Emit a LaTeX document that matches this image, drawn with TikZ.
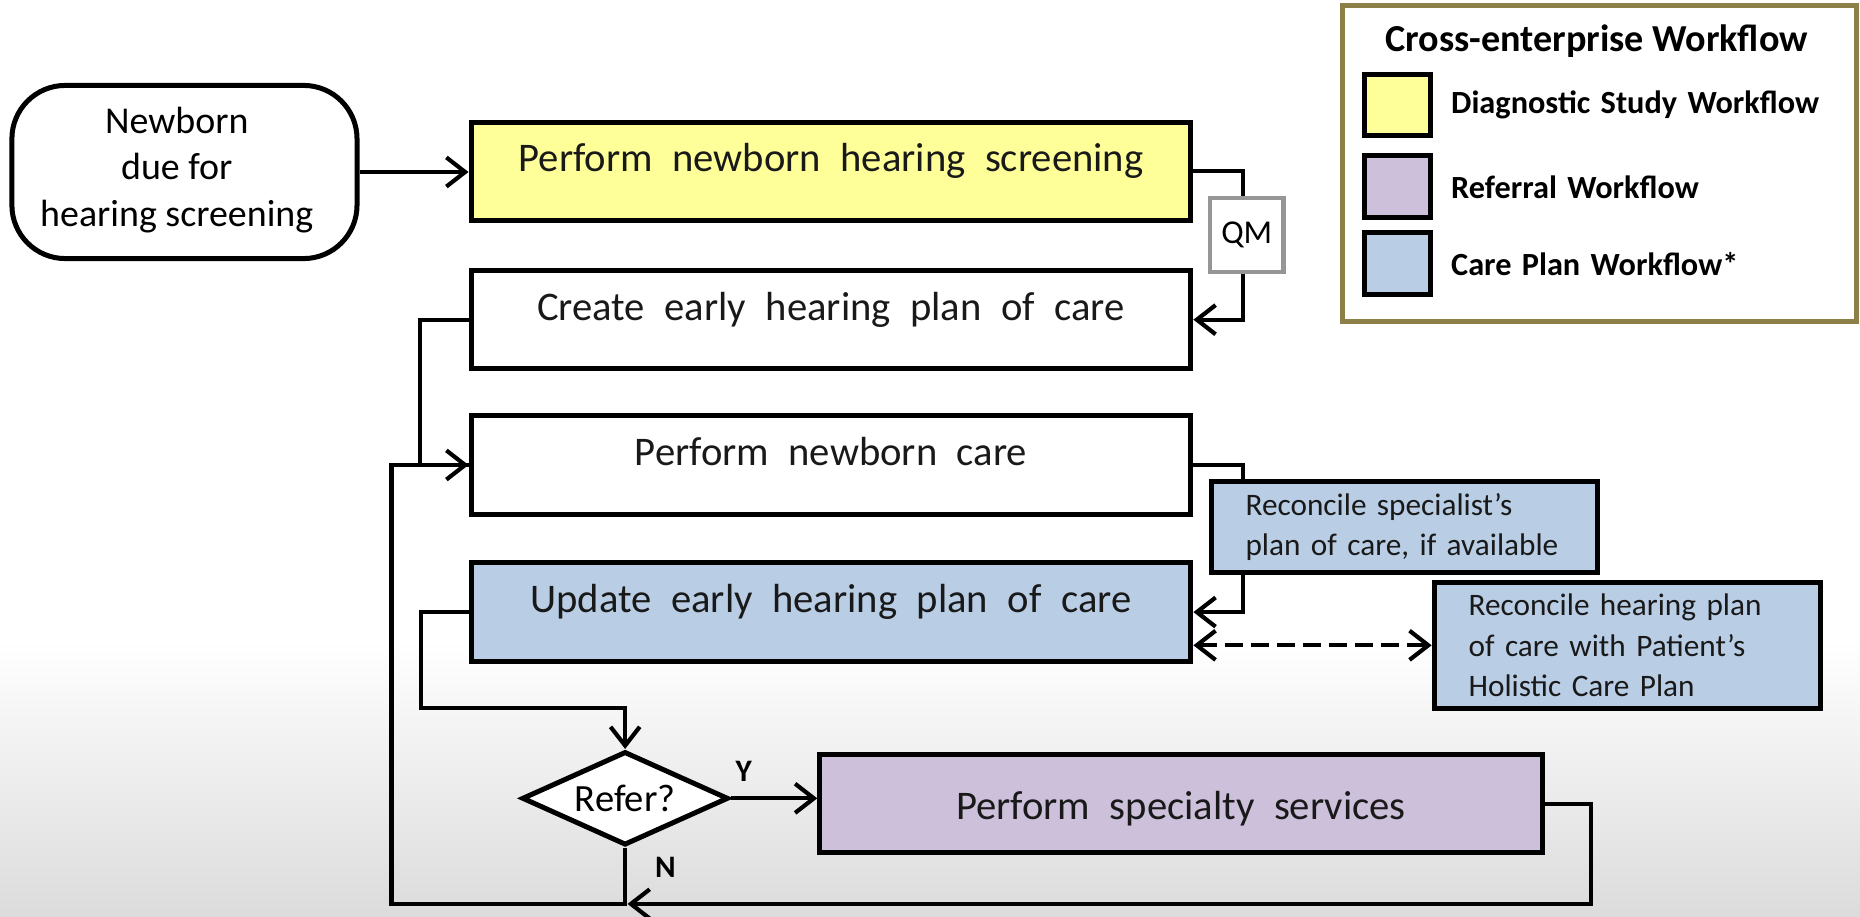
\documentclass[tikz,border=0pt]{standalone}
\usepackage{fontspec}
\setmainfont{Carlito}
\usetikzlibrary{arrows.meta,shapes.geometric}
\definecolor{yelc}{RGB}{255,255,153}
\definecolor{purc}{RGB}{204,192,218}
\definecolor{bluc}{RGB}{185,205,229}
\definecolor{olivec}{RGB}{140,128,72}
\definecolor{qmgray}{RGB}{150,150,150}
\newcommand\mainfnt{\fontsize{19.5}{23}\selectfont\spaceskip=0.48em plus 0.1em\relax}
\newcommand\sidefnt{\fontsize{15}{19.3}\selectfont\spaceskip=0.34em plus 0.1em\relax}
\newcommand\legfnt{\bfseries\fontsize{15.5}{18}\selectfont\spaceskip=0.32em plus 0.1em\relax}
\tikzset{
  mainbox/.style={draw=black, line width=2.4pt, minimum width=12.14cm, minimum height=1.66cm, inner sep=0pt},
  btext/.style={font=\mainfnt, inner sep=0pt, anchor=base, text=black!90},
  sidebox/.style={draw=black, line width=2.4pt, fill=bluc, minimum width=6.52cm, text width=5.36cm, align=left, inner xsep=0.58cm, inner ysep=0pt, font=\sidefnt, text=black!90},
  conn/.style={line width=2pt},
  arr/.style={conn, -{Straight Barb[length=9pt,width=14pt]}},
  darr/.style={conn, dash pattern=on 8.5pt off 4pt, {Straight Barb[length=9pt,width=14pt]}-{Straight Barb[length=9pt,width=14pt]}},
  swatch/.style={draw=black, line width=2.4pt, minimum width=1.12cm, minimum height=1.04cm, inner sep=0pt},
  legtext/.style={font=\legfnt, anchor=west, inner sep=0pt},
  yn/.style={font=\bfseries\fontsize{15}{17}\selectfont, inner sep=0pt}
}
\begin{document}
\begin{tikzpicture}[x=0.02cm, y=-0.02cm]
\useasboundingbox (0,0) rectangle (1568,773);
\fill[white] (0,0) rectangle (1568,773);
\shade[top color=white, bottom color=black!14] (0,540) rectangle (1568,773);

% legend
\node[draw=olivec, line width=2.4pt, fill=white, minimum width=8.66cm, minimum height=5.32cm, inner sep=0pt] (legend) at (1348.5,138) {};
\node[font=\bfseries\fontsize{18.3}{21}\selectfont, inner sep=0pt] (legtitle) at (1346,35) {Cross-enterprise Workflow};
\node[swatch, fill=yelc] (sw1) at (1178,88.5) {};
\node[swatch, fill=purc] (sw2) at (1178,157) {};
\node[swatch, fill=bluc] (sw3) at (1178,222) {};
\node[legtext] (lt1) at (1223,88) {Diagnostic Study Workflow};
\node[legtext] (lt2) at (1223,158) {Referral Workflow};
\node[legtext] (lt3) at (1223,223) {Care Plan Workflow*};

% start
\node[draw=black, line width=2.4pt, rounded corners=0.9cm, minimum width=5.82cm, minimum height=2.92cm, fill=white] (start) at (155.5,145) {};
\node[align=center, font=\fontsize{18.2}{22.3}\selectfont, inner sep=0pt] (startt) at (149,143) {Newborn\\due for\\hearing screening};

% main boxes
\node[mainbox, fill=yelc] (screen) at (700.5,144.5) {};
\node[btext] (screent) at (700.5,145) {Perform newborn hearing screening};
\node[mainbox, fill=white] (create) at (700.5,269.5) {};
\node[btext] (createt) at (700.5,270) {Create early hearing plan of care};
\node[mainbox, fill=white] (care) at (700.5,392) {};
\node[btext] (caret) at (700.5,392.5) {Perform newborn care};
\node[mainbox, fill=bluc] (update) at (700.5,516) {};
\node[btext] (updatet) at (700.5,516.5) {Update early hearing plan of care};
\node[mainbox, fill=purc, minimum width=12.18cm] (special) at (995.5,677.5) {};
\node[btext] (specialt) at (995.5,691) {Perform specialty services};

\node[draw=black, line width=2.4pt, fill=white, diamond, aspect=2.2, minimum width=3.48cm, minimum height=1.58cm, inner sep=0pt, font=\fontsize{18.5}{20}\selectfont] (refer) at (527,673) {Refer?};

% connectors
\draw[arr] (start.east) -- (start.east -| screen.west);
\draw[arr] (screen.east) -- ++(42,0) |- (create.east);
\node[draw=qmgray, line width=2pt, fill=white, minimum width=1.24cm, minimum height=1.24cm, inner sep=0pt, font=\fontsize{16}{18}\selectfont] (qm) at (1051,198) {QM};
\draw[conn] (create.west) -- ++(-41,0) |- (care.west);
\draw[arr] (care.east) -- ++(42,0) |- (update.east);
\node[sidebox, minimum height=1.54cm] (spec) at (1184,444.5) {Reconcile specialist’s\\plan of care, if available};
\node[sidebox, minimum height=2.12cm] (hear) at (1372,544) {Reconcile hearing plan\\of care with Patient’s\\Holistic Care Plan};
\draw[darr] (update.east |- hear.west) -- (hear.west);
\coordinate (d1) at (527,597);
\draw[arr] (update.west) -- ++(-40,0) |- (d1) -- (refer.north);
\draw[arr] (refer.east) -- (refer.east -| special.west);
\coordinate (botL) at (330,762);
\coordinate (botN) at (529,762);
\draw[arr] (refer.south) |- (botL) |- (care.west);
\draw[arr] (special.east) -- ++(39,0) |- (botN);
\node[yn] (ylab) at (627,650) {Y};
\node[yn] (nlab) at (561,731) {N};
\end{tikzpicture}
\end{document}
